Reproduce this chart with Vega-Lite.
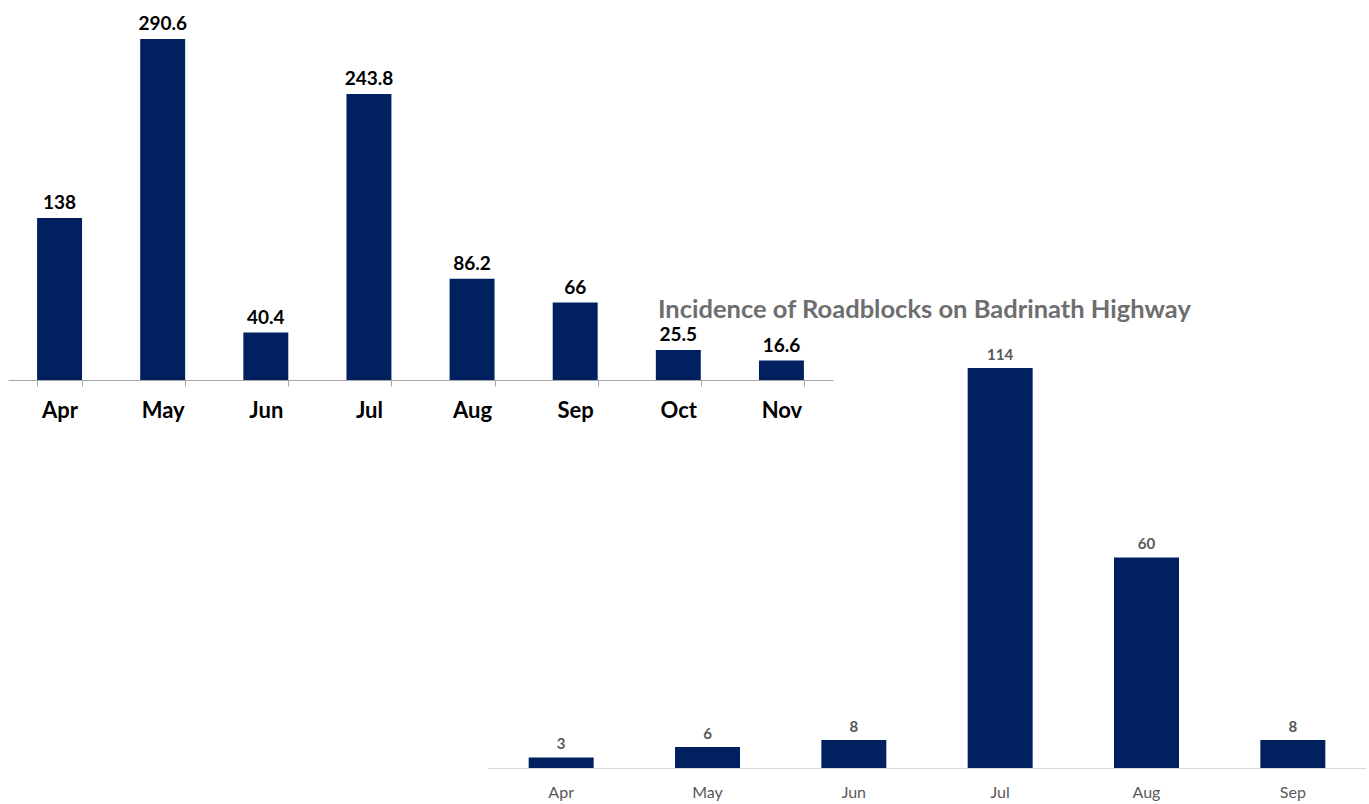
{
  "$schema": "https://vega.github.io/schema/vega-lite/v6.json",
  "width": 1369,
  "height": 804,
  "autosize": {"type": "none"},
  "padding": 0,
  "background": "white",
  "config": {"view": {"stroke": null}, "font": "Lato"},
  "title": {
    "text": "Incidence of Roadblocks on Badrinath Highway",
    "anchor": "start",
    "frame": "group",
    "dx": 658,
    "dy": 347,
    "baseline": "alphabetic",
    "fontSize": 25.5,
    "fontWeight": "bold",
    "color": "#6e6e6e",
    "font": "Lato"
  },
  "datasets": {
    "rain": [
      {"month": "Apr", "value": 138},
      {"month": "May", "value": 290.6},
      {"month": "Jun", "value": 40.4},
      {"month": "Jul", "value": 243.8},
      {"month": "Aug", "value": 86.2},
      {"month": "Sep", "value": 66},
      {"month": "Oct", "value": 25.5},
      {"month": "Nov", "value": 16.6}
    ],
    "roadblocks": [
      {"month": "Apr", "count": 3},
      {"month": "May", "count": 6},
      {"month": "Jun", "count": 8},
      {"month": "Jul", "count": 114},
      {"month": "Aug", "count": 60},
      {"month": "Sep", "count": 8}
    ]
  },
  "layer": [
    {
      "data": {"name": "rain"},
      "encoding": {
        "x": {
          "field": "month",
          "type": "nominal",
          "sort": null,
          "title": null,
          "scale": {"range": [8, 833], "paddingInner": 0.564, "paddingOuter": 0.282},
          "axis": {
            "orient": "bottom",
            "offset": -424,
            "tickBand": "extent",
            "domainColor": "#a6a6a6",
            "tickColor": "#a6a6a6",
            "tickSize": 6,
            "labelPadding": 14,
            "labelAngle": 0,
            "labelFontSize": 22,
            "labelFontWeight": "bold",
            "labelColor": "#000000",
            "labelFont": "Lato"
          }
        },
        "y": {
          "field": "value",
          "type": "quantitative",
          "scale": {"domain": [0, 300], "nice": false, "range": [380, 28]},
          "axis": null
        }
      },
      "layer": [
        {"mark": {"type": "bar", "color": "#002060"}},
        {
          "mark": {"type": "text", "baseline": "alphabetic", "dy": -9, "fontSize": 19, "fontWeight": "bold", "color": "#000000", "font": "Lato"},
          "encoding": {"text": {"field": "value", "type": "quantitative"}}
        }
      ]
    },
    {
      "data": {"name": "roadblocks"},
      "encoding": {
        "x": {
          "field": "month",
          "type": "nominal",
          "sort": null,
          "title": null,
          "scale": {"range": [488, 1366], "paddingInner": 0.556, "paddingOuter": 0.278},
          "axis": {
            "orient": "bottom",
            "offset": -36,
            "ticks": false,
            "domainColor": "#d9d9d9",
            "labelPadding": 16,
            "labelAngle": 0,
            "labelFontSize": 16,
            "labelColor": "#595959",
            "labelFont": "Lato"
          }
        },
        "y": {
          "field": "count",
          "type": "quantitative",
          "scale": {"domain": [0, 114], "nice": false, "range": [768, 368]},
          "axis": null
        }
      },
      "layer": [
        {"mark": {"type": "bar", "color": "#002060"}},
        {
          "mark": {"type": "text", "baseline": "alphabetic", "dy": -8, "fontSize": 15, "fontWeight": "bold", "color": "#595959", "font": "Lato"},
          "encoding": {"text": {"field": "count", "type": "quantitative"}}
        }
      ]
    }
  ],
  "resolve": {"scale": {"x": "independent", "y": "independent"}, "axis": {"x": "independent", "y": "independent"}}
}
